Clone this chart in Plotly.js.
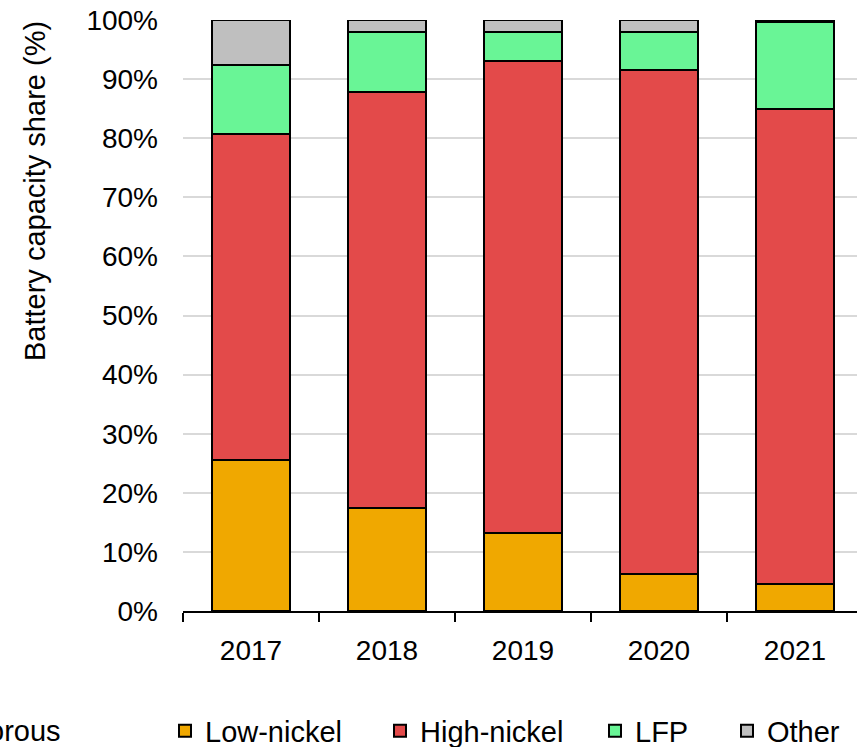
<!DOCTYPE html>
<html>
<head>
<meta charset="utf-8">
<script src="https://cdn.plot.ly/plotly-3.0.1.min.js"></script>
<style>html,body{margin:0;padding:0;background:#fff}#chart{width:857px;height:747px}</style>
</head>
<body>
<div id="chart"></div>
<script>
var years = ["2017", "2018", "2019", "2020", "2021"];
var lowNickel = [25.5, 17.4, 13.2, 6.3, 4.6];
var highNickel = [55.2, 70.4, 79.9, 85.2, 80.4];
var lfp = [11.7, 10.2, 4.9, 6.5, 14.7];
var other = [7.6, 2.0, 2.0, 2.0, 0.3];
var seriesNames = ["Low-nickel", "High-nickel", "LFP", "Other"];
var yTickVals = [0, 10, 20, 30, 40, 50, 60, 70, 80, 90, 100];
var yTickText = ["0%", "10%", "20%", "30%", "40%", "50%", "60%", "70%", "80%", "90%", "100%"];
var yTitleText = "Battery capacity share (%)";
var cutLegendText = "orous";

var W = 857, H = 747;
var FONT = "Liberation Sans, Arial, sans-serif";
var colors = ["#F0A800", "#E34A4A", "#69F596", "#BFBFBF"];
var values = [lowNickel, highNickel, lfp, other];
var legendIds = ["legend", "legend2", "legend3", "legend4"];
var textStarts = [205, 420, 635, 767];
var plotW = 674, plotH = 591, plotL = 183, plotB = 611;

var traces = values.map(function (v, i) {
  return {
    type: "bar",
    x: years,
    y: v,
    name: seriesNames[i],
    legend: legendIds[i],
    marker: { color: colors[i], line: { color: "#000", width: 2 } },
    hoverinfo: "x+y+name"
  };
});

var layout = {
  width: W, height: H,
  paper_bgcolor: "#fff", plot_bgcolor: "#fff",
  margin: { l: 183, r: 0, t: 20, b: 136, pad: 0 },
  barmode: "stack",
  bargap: 0.43,
  font: { family: FONT, size: 28, color: "#000" },
  xaxis: {
    type: "category",
    range: [-0.5, 4.5 - 6 / 136],
    tickson: "boundaries",
    ticks: "outside", ticklen: 9, tickwidth: 2, tickcolor: "#000",
    showline: true, linecolor: "#000", linewidth: 2,
    showgrid: false, zeroline: false,
    ticklabelstandoff: 13,
    automargin: false,
    tickfont: { family: FONT, size: 28, color: "#000" }
  },
  yaxis: {
    range: [0, 100],
    tickvals: yTickVals, ticktext: yTickText,
    ticks: "", showline: false, zeroline: false,
    showgrid: true, gridcolor: "#D9D9D9", gridwidth: 2,
    ticklabelstandoff: 24,
    automargin: false,
    tickfont: { family: FONT, size: 28, color: "#000" }
  },
  annotations: [{
    xref: "paper", yref: "paper",
    x: (35 - plotL) / plotW, y: (plotB - 191) / plotH,
    xanchor: "center", yanchor: "middle",
    textangle: -90,
    text: yTitleText, showarrow: false,
    font: { family: FONT, size: 29, color: "#000" }
  }, {
    xref: "paper", yref: "paper",
    x: (63 - plotL) / plotW, y: -(731 - plotB) / plotH,
    xanchor: "right", yanchor: "middle",
    text: cutLegendText, showarrow: false,
    font: { family: FONT, size: 29, color: "#000" }
  }],
  showlegend: true
};

legendIds.forEach(function (id, i) {
  layout[id] = {
    orientation: "h",
    xref: "container", yref: "container",
    x: (textStarts[i] - 40) / W, xanchor: "left",
    y: 1 - 731 / H, yanchor: "middle",
    bgcolor: "rgba(0,0,0,0)", borderwidth: 0,
    font: { family: FONT, size: 29, color: "#000" },
    itemclick: false, itemdoubleclick: false
  };
});

Plotly.newPlot("chart", traces, layout, { displayModeBar: false, responsive: false });
</script>
</body>
</html>
